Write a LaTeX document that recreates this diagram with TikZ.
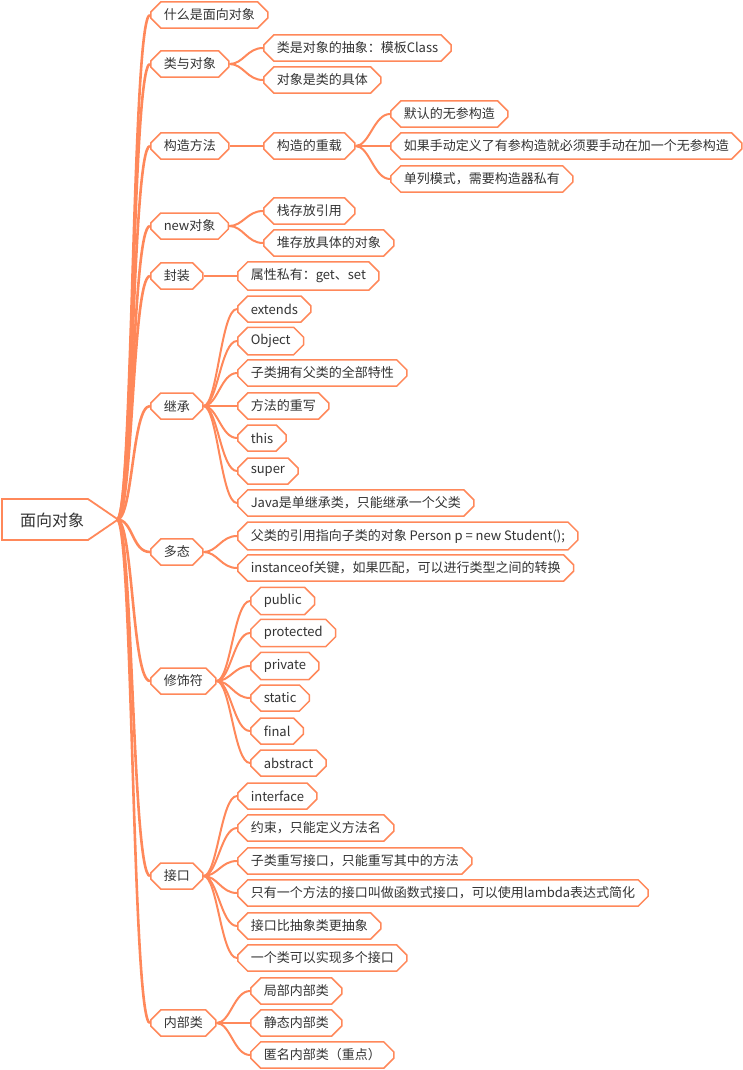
\documentclass[tikz,border=0pt]{standalone}
\usepackage{fontspec}
\setmainfont{Noto Sans CJK SC}
\usetikzlibrary{shapes.misc}
\definecolor{orl}{RGB}{255,136,90}
\definecolor{txt}{RGB}{51,51,51}
\begin{document}
\begin{tikzpicture}[x=1pt,y=-1pt,
  box/.style={chamfered rectangle, chamfered rectangle xsep=5pt, chamfered rectangle ysep=5pt,
    draw=orl, line width=1.5pt, fill=white, text=txt,
    font=\fontsize{13pt}{15pt}\selectfont, inner xsep=8pt, inner ysep=2pt,
    minimum height=26pt, anchor=west},
  trunk/.style={draw=orl, line width=2.6pt},
  branch/.style={draw=orl, line width=2pt},
]
\useasboundingbox (0,0) rectangle (742,1070);
% level 1
\node[box] (n1) at (150,15) {什么是面向对象};
\node[box] (n2) at (150,64) {类与对象};
\node[box] (n3) at (150,146) {构造方法};
\node[box] (n4) at (150,226) {new对象};
\node[box] (n5) at (150,276) {封装};
\node[box] (n6) at (150,406) {继承};
\node[box] (n7) at (150,552) {多态};
\node[box] (n8) at (150,681) {修饰符};
\node[box] (n9) at (150,876) {接口};
\node[box] (n10) at (150,1023) {内部类};
% 类与对象
\node[box] (n21) at (263,48) {类是对象的抽象：模板Class};
\node[box] (n22) at (263,80) {对象是类的具体};
% 构造方法
\node[box] (n31) at (263,146) {构造的重载};
\node[box] (n311) at (390,114) {默认的无参构造};
\node[box] (n312) at (390,146) {如果手动定义了有参构造就必须要手动在加一个无参构造};
\node[box] (n313) at (390,179) {单列模式，需要构造器私有};
% new对象
\node[box] (n41) at (263,211) {栈存放引用};
\node[box] (n42) at (263,243) {堆存放具体的对象};
% 封装
\node[box] (n51) at (237,276) {属性私有：get、set};
% 继承
\node[box] (n61) at (237,309) {extends};
\node[box] (n62) at (237,341) {Object};
\node[box] (n63) at (237,373) {子类拥有父类的全部特性};
\node[box] (n64) at (237,406) {方法的重写};
\node[box] (n65) at (237,438) {this};
\node[box] (n66) at (237,471) {super};
\node[box] (n67) at (237,503) {Java是单继承类，只能继承一个父类};
% 多态
\node[box] (n71) at (237,536) {父类的引用指向子类的对象 Person p = new Student();};
\node[box] (n72) at (237,568) {instanceof关键，如果匹配，可以进行类型之间的转换};
% 修饰符
\node[box] (n81) at (250,601) {public};
\node[box] (n82) at (250,633) {protected};
\node[box] (n83) at (250,666) {private};
\node[box] (n84) at (250,698) {static};
\node[box] (n85) at (250,731) {final};
\node[box] (n86) at (250,763) {abstract};
% 接口
\node[box] (n91) at (237,796) {interface};
\node[box] (n92) at (237,828) {约束，只能定义方法名};
\node[box] (n93) at (237,861) {子类重写接口，只能重写其中的方法};
\node[box] (n94) at (237,893) {只有一个方法的接口叫做函数式接口，可以使用lambda表达式简化};
\node[box] (n95) at (237,926) {接口比抽象类更抽象};
\node[box] (n96) at (237,958) {一个类可以实现多个接口};
% 内部类
\node[box] (n101) at (250,991) {局部内部类};
\node[box] (n102) at (250,1023) {静态内部类};
\node[box] (n103) at (250,1055) {匿名内部类（重点）};
% connectors
\coordinate (rp) at (117,519.5);
\foreach \n in {n1,n2,n3,n4,n5,n6,n7,n8,n9,n10}
  \draw[trunk] (rp) .. controls +(16,0) and +(-18,0) .. (\n.west);
\foreach \p/\c in {n2/n21,n2/n22,n3/n31,n31/n311,n31/n312,n31/n313,n4/n41,n4/n42,n5/n51,
  n6/n61,n6/n62,n6/n63,n6/n64,n6/n65,n6/n66,n6/n67,n7/n71,n7/n72,
  n8/n81,n8/n82,n8/n83,n8/n84,n8/n85,n8/n86,
  n9/n91,n9/n92,n9/n93,n9/n94,n9/n95,n9/n96,n10/n101,n10/n102,n10/n103}
  \draw[branch] (\p.east) .. controls +(14,0) and +(-16,0) .. (\c.west);
% root
\draw[draw=orl, line width=1.8pt, fill=white, line join=miter] (2,499) -- (88,499) -- (118,519.5) -- (88,540) -- (2,540) -- cycle;
\node[text=txt, font=\fontsize{16pt}{18pt}\selectfont] (root) at (52,520) {面向对象};
\end{tikzpicture}
\end{document}
